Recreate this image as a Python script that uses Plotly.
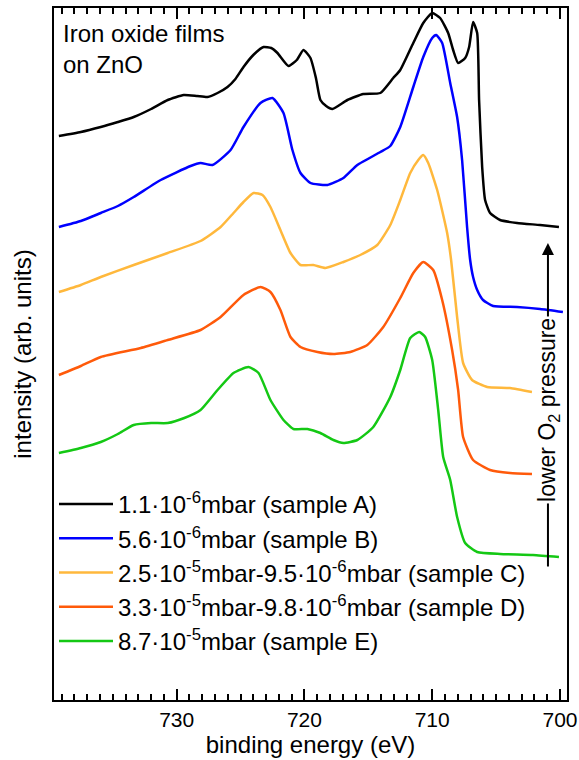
import plotly.graph_objects as go

# Binding energies (eV) and intensities (arb. units, offset stacked)
energy_A = [739.22, 737.50, 735.94, 734.60, 733.36, 732.00, 730.70, 729.45, 728.40, 727.58, 726.80,
            726.02, 725.40, 724.77, 724.00, 723.20, 722.60, 722.11, 721.25, 720.60,
            720.08, 719.53, 719.10, 718.75, 718.30, 717.81, 716.64, 715.39, 714.06, 713.05, 712.50, 711.48, 710.70,
            710.00, 709.38, 708.75, 708.36, 707.97, 707.42, 707.11, 706.80, 706.48, 706.33, 706.09,
            705.86, 705.47, 704.69, 703.36, 701.56, 700.08]
inten_A = [564, 568, 573, 578, 583, 591, 600, 605, 604, 603, 607,
           613, 621, 633, 645, 653, 652, 647, 634, 640,
           650, 642, 622, 600, 594, 591, 600, 606, 607, 622, 630, 657, 677,
           687, 682, 667, 650, 637, 642, 653, 678, 667, 600, 533,
           500, 487, 480, 477, 475, 473]

energy_B = [739.22, 737.50, 735.94, 734.60, 733.36, 731.25, 728.91, 728.13, 727.19, 725.78, 724.77, 723.44, 722.50,
            721.64, 720.94, 720.31, 719.53, 718.20, 716.95, 715.86, 714.06, 713.28, 712.50, 711.48,
            710.70, 710.00, 709.69, 709.22, 708.59, 708.05, 707.66, 707.27, 707.03, 706.80, 706.48,
            706.02, 705.23, 703.36, 701.56, 699.77]
inten_B = [473, 479, 487, 494, 503, 520, 534, 537, 535, 550, 573, 597, 602,
           587, 550, 527, 517, 515, 522, 535, 548, 554, 573, 613,
           643, 662, 665, 657, 617, 583, 540, 473, 440, 423, 410,
           400, 394, 393, 391, 388]

energy_C = [739.22, 737.50, 735.94, 733.36, 730.70, 728.13, 726.56, 725.55, 724.77, 723.98, 723.28, 722.66,
            721.88, 721.09, 720.31, 719.30, 718.36, 716.95, 715.63, 714.30, 713.28, 712.50, 711.72,
            711.09, 710.70, 710.31, 709.61, 708.83, 708.52, 708.05, 707.58, 706.88, 705.70, 703.91,
            702.19]
inten_C = [408, 415, 423, 435, 447, 459, 473, 487, 498, 507, 505, 493,
           470, 447, 435, 435, 432, 438, 445, 455, 475, 500, 527,
           540, 545, 537, 510, 467, 440, 383, 337, 320, 313, 312,
           308]

energy_D = [739.22, 737.50, 735.94, 732.81, 730.70, 728.13, 726.56, 724.77, 723.44, 722.66, 721.88, 721.09,
            720.31, 718.98, 717.73, 716.41, 715.08, 713.83, 712.50, 711.48, 710.70, 709.92, 709.22,
            708.44, 707.97, 707.58, 706.80, 705.47, 703.91, 702.19]
inten_D = [325, 334, 343, 352, 360, 370, 383, 405, 413, 408, 390, 363,
           353, 348, 346, 348, 355, 373, 402, 427, 438, 430, 400,
           350, 310, 263, 240, 230, 227, 226]

energy_E = [739.22, 737.50, 735.94, 734.60, 733.36, 732.00, 730.70, 729.40, 728.13, 726.80, 725.55, 724.38, 723.59,
            722.66, 721.64, 720.86, 719.77, 718.75, 717.73, 716.95, 715.86, 714.61, 713.28, 712.50,
            711.72, 711.02, 710.55, 710.00, 709.53, 709.14, 708.59, 708.05, 707.42, 706.48, 704.69,
            702.11, 700.08]
inten_E = [247, 252, 258, 266, 275, 277, 277, 282, 290, 310, 327, 333, 327,
           300, 280, 271, 271, 267, 260, 257, 260, 273, 303, 330,
           362, 368, 363, 340, 290, 243, 220, 183, 157, 148, 146,
           145, 143]

names = [
    "1.1\u00b710<sup>-6</sup>mbar (sample A)",
    "5.6\u00b710<sup>-6</sup>mbar (sample B)",
    "2.5\u00b710<sup>-5</sup>mbar-9.5\u00b710<sup>-6</sup>mbar (sample C)",
    "3.3\u00b710<sup>-5</sup>mbar-9.8\u00b710<sup>-6</sup>mbar (sample D)",
    "8.7\u00b710<sup>-5</sup>mbar (sample E)",
]
colors = ["#000000", "#0000FF", "#FFB83C", "#FF5A0A", "#14C814"]

xs = [energy_A, energy_B, energy_C, energy_D, energy_E]
ys = [inten_A, inten_B, inten_C, inten_D, inten_E]

FONT = "Liberation Sans, Arial, sans-serif"

fig = go.Figure()
for x, y, n, c in zip(xs, ys, names, colors):
    fig.add_trace(go.Scatter(x=x, y=y, mode="lines", name=n,
                             line=dict(color=c, width=2.5, shape="spline", smoothing=0.5)))

fig.update_layout(
    width=579, height=760,
    margin=dict(l=54, r=12, t=8, b=60, autoexpand=False),
    paper_bgcolor="white", plot_bgcolor="white",
    font=dict(family=FONT, size=22, color="black"),
    showlegend=True,
    legend=dict(x=0.0, y=0.315, xanchor="left", yanchor="top",
                bgcolor="rgba(0,0,0,0)", font=dict(size=24, family=FONT),
                tracegroupgap=0, itemwidth=54),
    xaxis=dict(range=[739.6, 699.45], dtick=10, tick0=700, automargin=False,
               ticks="inside", ticklen=11, tickwidth=1.5, tickcolor="black",
               minor=dict(ticks="inside", ticklen=6, dtick=1, tickwidth=1.5, tickcolor="black"),
               showline=True, linewidth=2, linecolor="black", mirror="allticks",
               showgrid=False, zeroline=False,
               tickfont=dict(size=21, family=FONT),
               title=dict(text="binding energy (eV)", font=dict(size=24, family=FONT), standoff=2)),
    yaxis=dict(range=[0, 692], showticklabels=False, ticks="", automargin=False,
               showline=True, linewidth=2, linecolor="black", mirror=True,
               showgrid=False, zeroline=False,
               title=dict(text="intensity (arb. units)", font=dict(size=24, family=FONT), standoff=14)),
)

# Arrow indicating lower O2 pressure
fig.add_annotation(x=700.94, y=457, ax=700.94, ay=132, xref="x", yref="y", axref="x", ayref="y",
                   text="", showarrow=True, arrowhead=2, arrowsize=1.2, arrowwidth=2, arrowcolor="black")
fig.add_annotation(x=700.94, y=290, xref="x", yref="y", text="lower O<sub>2</sub> pressure",
                   textangle=-90, showarrow=False, bgcolor="white",
                   font=dict(size=23, family=FONT, color="black"))
fig.add_annotation(x=0.014, y=0.985, xref="paper", yref="paper", xanchor="left", yanchor="top",
                   align="left", text="Iron oxide films<br>on ZnO", showarrow=False,
                   font=dict(size=24, family=FONT, color="black"))

fig.write_html("out.html")
